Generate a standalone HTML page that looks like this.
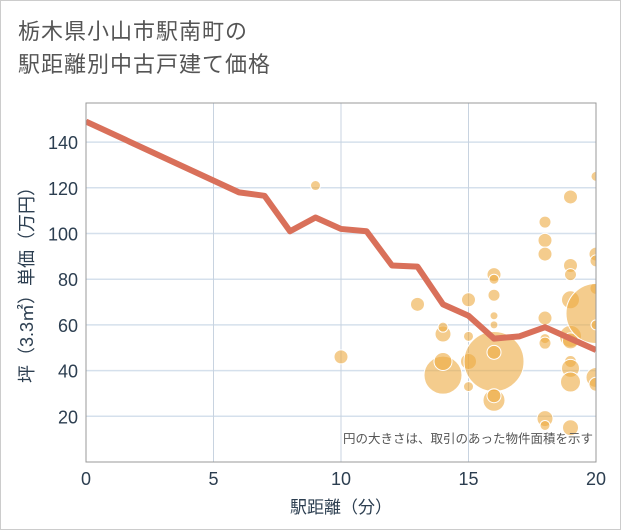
<!DOCTYPE html>
<html><head><meta charset="utf-8"><style>
body{margin:0;background:#fff;}
#wrap{position:relative;width:619px;height:528px;border:1px solid #ccc;font-family:"Liberation Sans","Noto Sans CJK JP",sans-serif;overflow:hidden}
#title{position:absolute;left:17px;top:14px;font-size:22px;line-height:33px;color:#555;letter-spacing:1px}
</style></head><body>
<div id="wrap">
<div id="title">栃木県小山市駅南町の<br>駅距離別中古戸建て価格</div>
<svg id="svg" width="621" height="530" style="position:absolute;left:-1px;top:-1px"></svg>
</div>
<script>
const xTicks=[0,5,10,15,20];
const yTicks=[20,40,60,80,100,120,140];
const lineX=[0,6,7,8,9,10,11,12,13,14,15,16,17,18,19,20];
const lineY=[149,118,116.5,101,107,102,101,86,85.5,69,64,54,55,59,54,49];
const bubX=[9,10,13,14,14,14,14,15,15,15,15,16,16,16,16,16,16,16,16,16,18,18,18,18,18,18,18,18,19,19,19,19,19,19,19,19,19,19,20,20,20,20,20,20,20,20];
const bubY=[121,46,69,38,44,56,59,71,55,44,33,44,48,27,29,82,80,73,64,60,105,97,91,63,54,52,19,16,116,86,82,71,55,53,44,41,35,15,125,91,88,76,65,60,37,34];
const bubR=[5,7,7,19,9,8,5,7,5,8,5,30,7,11,7,7,5,6,4,4,6,7,7,7,5,6,8,5,7,7,6,9,11,8,6,9,10,8,5,7,6,6,30,5,10,7];
const L=86,R=596,T=103,B=462;
const sx=v=>L+(R-L)*v/20, sy=v=>B-v*2.285;
const svg=document.getElementById('svg');const NS='http://www.w3.org/2000/svg';
function mk(t,a,p){const e=document.createElementNS(NS,t);for(const k in a)e.setAttribute(k,a[k]);(p||svg).appendChild(e);return e;}
const defs=mk('defs',{});const cp=mk('clipPath',{id:'c'},defs);mk('rect',{x:L,y:T,width:R-L,height:B-T},cp);
for(const v of yTicks){const g=mk('line',{x1:L,x2:R,y1:sy(v),y2:sy(v),stroke:'#d5e0ec','stroke-width':1.5});


const t=mk('text',{x:L-8,y:sy(v)+7,'text-anchor':'end','font-size':18,fill:'#2c3e50'});t.textContent=v;

}
for(const v of xTicks){if(v>0&&v<20){const g=mk('line',{x1:sx(v),x2:sx(v),y1:T,y2:B,stroke:'#c8d3e0','stroke-width':1});

}
const t=mk('text',{x:sx(v),y:B+23,'text-anchor':'middle','font-size':18,fill:'#2c3e50'});t.textContent=v;

}
const gb=mk('g',{'clip-path':'url(#c)'});
for(let i=0;i<bubX.length;i++){const c=mk('circle',{cx:sx(bubX[i]),cy:sy(bubY[i]),r:bubR[i],fill:'rgba(236,170,65,0.6)',stroke:'#fff','stroke-width':1},gb);

}
const pl=mk('polyline',{points:lineX.map((x,i)=>sx(x)+','+sy(lineY[i])).join(' '),fill:'none',stroke:'#d9705a','stroke-width':6,'stroke-linejoin':'round','clip-path':'url(#c)'});


const fr=mk('rect',{x:L,y:T,width:R-L,height:B-T,fill:'none',stroke:'#999','stroke-width':1});


const n=mk('text',{x:593,y:443,'text-anchor':'end','font-size':12.5,fill:'#555'});n.textContent='円の大きさは、取引のあった物件面積を示す';


const xt=mk('text',{x:(L+R)/2,y:513,'text-anchor':'middle','font-size':17,fill:'#2c3e50'});xt.textContent='駅距離（分）';


const yt=mk('text',{x:0,y:0,'text-anchor':'middle','font-size':18,fill:'#2c3e50',transform:'translate(33,'+((T+B)/2-2)+') rotate(-90)'});yt.textContent='坪（3.3㎡）単価（万円）';


</script>
</body></html>
